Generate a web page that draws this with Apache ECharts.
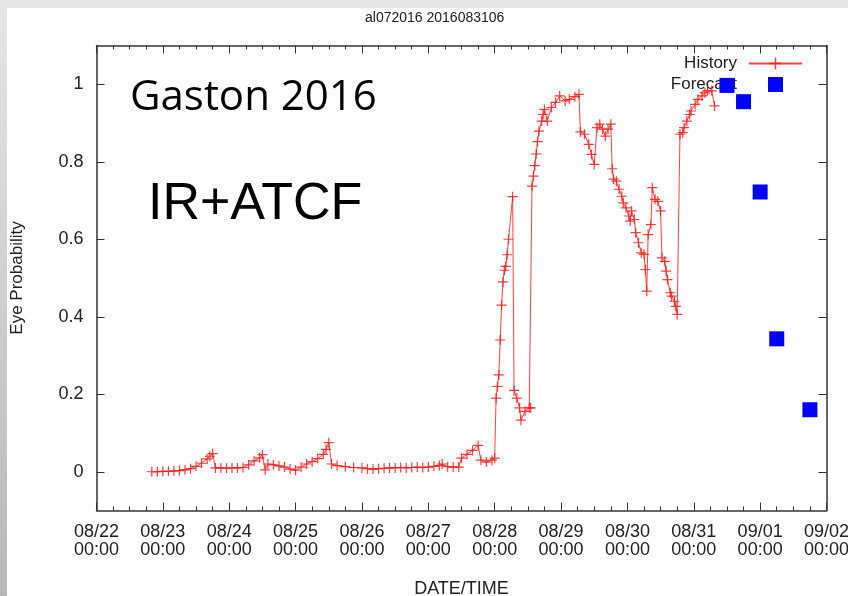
<!DOCTYPE html>
<html>
<head>
<meta charset="utf-8">
<script src="https://cdn.jsdelivr.net/npm/echarts@6/dist/echarts.min.js"></script>
<style>
  html, body { margin: 0; padding: 0; background: #fff; }
  #chart { width: 848px; height: 596px; }
</style>
</head>
<body>
<div id="chart"></div>
<script>
const titleText = 'al072016 2016083106'
const stormLabel = 'Gaston 2016'
const sourceLabel = 'IR+ATCF'

// axis range (dates are 2016, UTC)
const xRange = ['08/22 00:00', '09/02 00:00']
const yRange = [-0.1, 1.1]
const yTicks = [0, 0.2, 0.4, 0.6, 0.8, 1]

// eye probability history
const historyTimes = [
  '08/22 20:00', '08/22 22:00', '08/23 00:00', '08/23 02:00', '08/23 04:00', '08/23 06:00',
  '08/23 08:00', '08/23 10:00', '08/23 12:00', '08/23 14:00', '08/23 16:00', '08/23 17:00',
  '08/23 18:00', '08/23 19:00', '08/23 21:00', '08/23 23:00', '08/24 01:00', '08/24 03:00',
  '08/24 05:00', '08/24 07:00', '08/24 09:00', '08/24 11:00', '08/24 12:00', '08/24 13:00',
  '08/24 14:00', '08/24 16:00', '08/24 18:00', '08/24 20:00', '08/24 22:00', '08/25 00:00',
  '08/25 02:00', '08/25 04:00', '08/25 06:00', '08/25 08:00', '08/25 10:00', '08/25 11:00',
  '08/25 12:00', '08/25 13:00', '08/25 15:00', '08/25 18:00', '08/25 21:00', '08/26 00:00',
  '08/26 02:00', '08/26 04:00', '08/26 06:00', '08/26 08:00', '08/26 10:00', '08/26 12:00',
  '08/26 14:00', '08/26 16:00', '08/26 18:00', '08/26 20:00', '08/26 22:00', '08/27 00:00',
  '08/27 02:00', '08/27 04:00', '08/27 05:00', '08/27 07:00', '08/27 09:00', '08/27 11:00',
  '08/27 12:00', '08/27 14:00', '08/27 16:00', '08/27 18:00', '08/27 19:00', '08/27 21:00',
  '08/27 23:00', '08/28 00:00', '08/28 00:30', '08/28 01:00', '08/28 01:30', '08/28 02:00',
  '08/28 02:30', '08/28 03:00', '08/28 03:30', '08/28 04:00', '08/28 04:30', '08/28 05:00',
  '08/28 06:30', '08/28 07:00', '08/28 08:00', '08/28 09:00', '08/28 09:30', '08/28 11:00',
  '08/28 12:30', '08/28 13:00', '08/28 13:30', '08/28 14:00', '08/28 14:30', '08/28 15:00',
  '08/28 15:30', '08/28 16:00', '08/28 17:00', '08/28 17:30', '08/28 18:00', '08/28 19:00',
  '08/28 20:30', '08/28 22:00', '08/28 23:30', '08/29 01:30', '08/29 03:00', '08/29 05:00',
  '08/29 06:30', '08/29 07:00', '08/29 08:30', '08/29 10:00', '08/29 11:00', '08/29 12:00',
  '08/29 13:00', '08/29 14:00', '08/29 15:00', '08/29 16:00', '08/29 17:00', '08/29 18:00',
  '08/29 18:30', '08/29 19:00', '08/29 20:00', '08/29 21:00', '08/29 22:00', '08/29 22:30',
  '08/29 23:30', '08/30 00:30', '08/30 01:00', '08/30 01:30', '08/30 02:30', '08/30 03:00',
  '08/30 04:00', '08/30 05:00', '08/30 06:00', '08/30 06:30', '08/30 07:00', '08/30 07:30',
  '08/30 08:30', '08/30 09:00', '08/30 10:00', '08/30 11:00', '08/30 12:00', '08/30 12:30',
  '08/30 13:30', '08/30 14:00', '08/30 14:30', '08/30 15:30', '08/30 16:00', '08/30 17:00',
  '08/30 17:30', '08/30 18:00', '08/30 19:00', '08/30 20:00', '08/30 20:30', '08/30 21:30',
  '08/30 22:30', '08/30 23:00', '08/31 00:30', '08/31 01:30', '08/31 03:00', '08/31 04:00',
  '08/31 05:00', '08/31 06:30', '08/31 07:30'
]
const historyProb = [
  0.000, 0.000, 0.001, 0.001, 0.002, 0.003,
  0.005, 0.008, 0.014, 0.022, 0.033, 0.040,
  0.047, 0.010, 0.010, 0.009, 0.010, 0.010,
  0.011, 0.018, 0.028, 0.036, 0.044, 0.005,
  0.020, 0.018, 0.015, 0.012, 0.007, 0.004,
  0.012, 0.020, 0.026, 0.034, 0.045, 0.058,
  0.075, 0.020, 0.016, 0.013, 0.011, 0.010,
  0.008, 0.007, 0.008, 0.009, 0.010, 0.010,
  0.011, 0.010, 0.011, 0.012, 0.011, 0.012,
  0.014, 0.016, 0.020, 0.013, 0.012, 0.012,
  0.035, 0.045, 0.055, 0.068, 0.030, 0.025,
  0.030, 0.035, 0.190, 0.220, 0.250, 0.340,
  0.430, 0.490, 0.520, 0.530, 0.560, 0.600,
  0.710, 0.210, 0.190, 0.165, 0.133, 0.156,
  0.165, 0.165, 0.737, 0.763, 0.790, 0.820,
  0.852, 0.879, 0.905, 0.922, 0.935, 0.905,
  0.940, 0.953, 0.970, 0.957, 0.961, 0.968,
  0.974, 0.877, 0.871, 0.845, 0.819, 0.793,
  0.888, 0.897, 0.884, 0.866, 0.884, 0.897,
  0.782, 0.755, 0.750, 0.729, 0.711, 0.694,
  0.681, 0.660, 0.647, 0.673, 0.651, 0.617,
  0.591, 0.565, 0.561, 0.522, 0.466, 0.612,
  0.638, 0.733, 0.703, 0.698, 0.673, 0.552,
  0.543, 0.518, 0.496, 0.462, 0.453, 0.440,
  0.427, 0.406, 0.871, 0.875, 0.888, 0.905,
  0.922, 0.931, 0.948, 0.961, 0.970, 0.978,
  0.983, 0.983, 0.944
]

// forecast eye probability
const forecastTimes = ['08/31 12:00', '08/31 18:00', '09/01 00:00', '09/01 06:00', '09/01 18:00']
const forecastProb = [0.997, 0.955, 0.722, 0.343, 0.160]

const DAY = 86400000

function toTime(s) {
  const [md, hm] = s.split(' ')
  const [mo, dd] = md.split('/').map(Number)
  const [hh, mi] = hm.split(':').map(Number)
  return Date.UTC(2016, mo - 1, dd, hh, mi)
}

function pad(n) {
  return String(n).padStart(2, '0')
}

function formatTick(v) {
  const d = new Date(v)
  return pad(d.getUTCMonth() + 1) + '/' + pad(d.getUTCDate()) + '\n' +
    pad(d.getUTCHours()) + ':' + pad(d.getUTCMinutes())
}

const plusSymbol = 'path://M4.4,0H5.6V4.4H10V5.6H5.6V10H4.4V5.6H0V4.4H4.4Z'
const squareSymbol = 'path://M0,0H10V10H0Z'
const font = 'Liberation Sans, Arial, sans-serif'
const ink = '#222'
const frame = { show: true, onZero: false, lineStyle: { color: '#333', width: 1.5 } }

const chart = echarts.init(document.getElementById('chart'))

const xBase = {
  type: 'value',
  min: toTime(xRange[0]),
  max: toTime(xRange[1]),
  interval: DAY,
  axisLine: frame,
  axisTick: { show: true, inside: true, length: 8, lineStyle: { color: '#333', width: 1 } },
  minorTick: { show: true, splitNumber: 4, length: 4, lineStyle: { color: '#333', width: 1 } },
  splitLine: { show: false },
}

const yBase = {
  type: 'value',
  min: yRange[0],
  max: yRange[1],
  axisLine: frame,
  axisTick: { show: true, inside: true, length: 8, customValues: yTicks, lineStyle: { color: '#333', width: 1 } },
  splitLine: { show: false },
}

const option = {
  backgroundColor: '#fff',
  animation: false,
  title: {
    text: titleText,
    left: 365,
    top: 11,
    padding: 0,
    textStyle: { fontFamily: font, fontSize: 14, fontWeight: 'normal', color: ink },
  },
  grid: { left: 96.5, right: 21.5, top: 45.5, bottom: 85.5, outerBoundsMode: 'none', containLabel: false },
  legend: {
    orient: 'vertical',
    right: 45,
    top: 55,
    padding: 0,
    align: 'right',
    itemWidth: 53,
    itemHeight: 15,
    itemGap: 4,
    symbolKeepAspect: true,
    z: 1,
    textStyle: { fontFamily: font, fontSize: 17, color: ink, padding: [0, 7, 0, 0] },
    data: ['History', { name: 'Forecast', icon: squareSymbol }],
  },
  xAxis: [
    {
      ...xBase,
      position: 'bottom',
      name: 'DATE/TIME',
      nameLocation: 'middle',
      nameGap: 70,
      nameTextStyle: { fontFamily: font, fontSize: 18, color: ink },
      axisLabel: {
        fontFamily: font,
        fontSize: 18,
        lineHeight: 18,
        color: ink,
        margin: 13,
        showMinLabel: true,
        showMaxLabel: true,
        hideOverlap: false,
        formatter: formatTick,
      },
    },
    { ...xBase, position: 'top', axisLabel: { show: false } },
  ],
  yAxis: [
    {
      ...yBase,
      position: 'left',
      name: 'Eye Probability',
      nameLocation: 'middle',
      nameGap: 71,
      nameTextStyle: { fontFamily: font, fontSize: 17, color: ink },
      axisLabel: { fontFamily: font, fontSize: 18, color: ink, margin: 13, customValues: yTicks },
    },
    { ...yBase, position: 'right', axisLabel: { show: false } },
  ],
  graphic: [
    { type: 'rect', z: 100, shape: { x: 0, y: 0, width: 848, height: 8 }, style: { fill: '#e6e6e6' } },
    {
      type: 'rect', z: 100, shape: { x: 0, y: 0, width: 7, height: 596 },
      style: {
        fill: new echarts.graphic.LinearGradient(0, 0, 0, 1, [
          { offset: 0, color: '#e6e6e6' },
          { offset: 1, color: '#b8b8b8' },
        ]),
      },
    },
    {
      type: 'text', left: 130, top: 77, z: 50,
      style: { text: stormLabel, font: '42px "Open Sans", sans-serif', fill: '#000' },
    },
    {
      type: 'text', left: 148, top: 179, z: 50,
      style: { text: sourceLabel, font: '52px "Liberation Sans", Arial, sans-serif', fill: '#000' },
    },
  ],
  series: [
    {
      name: 'History',
      type: 'line',
      data: historyTimes.map((t, i) => [toTime(t), historyProb[i]]),
      symbol: plusSymbol,
      symbolSize: 10,
      showAllSymbol: true,
      lineStyle: { color: '#ff2020', width: 1, opacity: 0.85 },
      itemStyle: { color: '#ff1a1a', opacity: 0.85 },
      z: 2,
    },
    {
      name: 'Forecast',
      type: 'scatter',
      data: forecastTimes.map((t, i) => [toTime(t), forecastProb[i]]),
      symbol: 'rect',
      symbolSize: 15,
      itemStyle: { color: '#0000ff', opacity: 1 },
      z: 3,
    },
  ],
}

chart.setOption(option)
</script>
</body>
</html>
